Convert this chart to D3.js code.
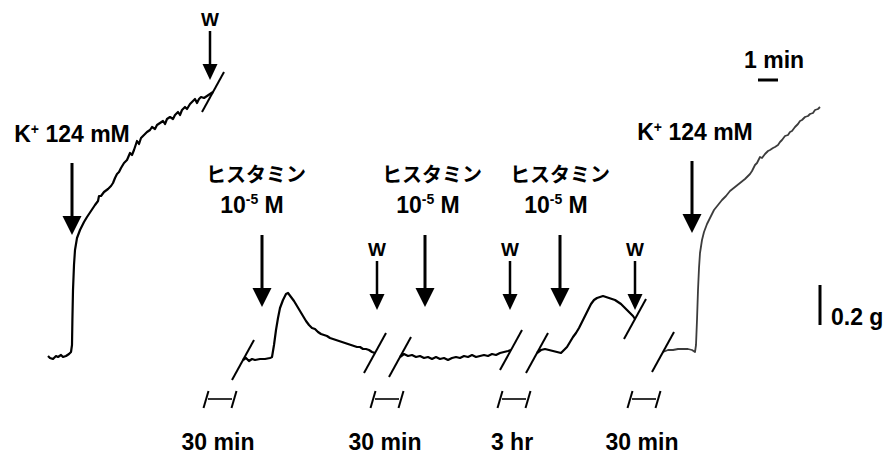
<!DOCTYPE html>
<html><head><meta charset="utf-8">
<script src="https://cdn.jsdelivr.net/npm/d3@7"></script>
<style>body{margin:0;background:#fff}svg{display:block}</style>
</head><body>
<svg id="chart" width="888" height="456"></svg>
<script>
// Isometric tension records. Each point: [time on the drawn record (min), tension (g)]
const kFirst = [[0,0.01],[0.1,0],[0.25,-0.005],[0.4,0.01],[0.5,0.005],[0.65,0.015],[0.75,0.005],[0.9,0.01],[1.05,0.02],[1.15,0.03],[1.2,0.065],[1.22,0.19],[1.25,0.34],[1.3,0.465],[1.35,0.54],[1.45,0.6],[1.6,0.64],[1.8,0.68],[1.95,0.705],[2.15,0.735],[2.35,0.765],[2.5,0.785],[2.55,0.81],[2.65,0.81],[2.8,0.83],[3.0,0.845],[3.15,0.86],[3.25,0.875],[3.35,0.9],[3.45,0.92],[3.55,0.93],[3.65,0.95],[3.8,0.975],[3.95,0.99],[4.1,1.025],[4.2,1.015],[4.3,1.04],[4.4,1.07],[4.45,1.085],[4.55,1.07],[4.65,1.1],[4.8,1.115],[4.95,1.13],[5.1,1.14],[5.2,1.155],[5.35,1.145],[5.45,1.165],[5.6,1.175],[5.75,1.185],[5.85,1.17],[5.95,1.195],[6.1,1.205],[6.25,1.195],[6.35,1.215],[6.5,1.23],[6.6,1.215],[6.7,1.24],[6.85,1.255],[6.95,1.245],[7.1,1.27],[7.25,1.285],[7.35,1.295],[7.45,1.275],[7.55,1.295],[7.65,1.305],[7.8,1.3],[7.95,1.31],[8.1,1.32],[8.25,1.33]];
const histamine1 = [[9.75,-0.01],[9.9,0],[10.05,-0.015],[10.2,-0.005],[10.35,-0.01],[10.6,-0.005],[10.85,-0.005],[11.1,0],[11.2,0.005],[11.3,0.065],[11.4,0.14],[11.5,0.2],[11.6,0.25],[11.75,0.29],[11.9,0.32],[12.0,0.325],[12.15,0.305],[12.3,0.285],[12.45,0.26],[12.6,0.235],[12.75,0.21],[12.9,0.185],[13.05,0.165],[13.2,0.15],[13.35,0.145],[13.5,0.13],[13.65,0.12],[13.8,0.115],[13.95,0.11],[14.1,0.1],[14.25,0.095],[14.4,0.09],[14.55,0.085],[14.7,0.08],[14.85,0.075],[15.0,0.07],[15.15,0.065],[15.3,0.06],[15.45,0.055],[15.6,0.055],[15.75,0.045],[15.9,0.045],[16.05,0.04],[16.2,0.03],[16.35,0.025]];
const histamine2 = [[17.6,0.005],[17.8,0.02],[18.0,0.01],[18.2,0.015],[18.4,0.005],[18.6,0.01],[18.8,0],[19.0,0.005],[19.2,-0.005],[19.4,0.005],[19.6,-0.005],[19.8,0],[20.0,-0.01],[20.2,0],[20.4,0.005],[20.6,0],[20.8,0.01],[21.0,0.005],[21.2,0.015],[21.4,0.005],[21.6,0.01],[21.8,0.015],[22.0,0.01],[22.2,0.02],[22.4,0.015],[22.6,0.025],[22.8,0.03],[23.0,0.035],[23.15,0.04]];
const histamine3 = [[24.45,0.025],[24.65,0.04],[24.85,0.045],[25.05,0.04],[25.25,0.035],[25.45,0.03],[25.65,0.025],[25.8,0.04],[25.95,0.055],[26.1,0.08],[26.25,0.105],[26.4,0.125],[26.55,0.15],[26.7,0.18],[26.85,0.21],[27.0,0.24],[27.15,0.27],[27.3,0.29],[27.45,0.3],[27.6,0.305],[27.75,0.31],[27.9,0.305],[28.05,0.3],[28.2,0.295],[28.35,0.29],[28.5,0.28],[28.65,0.27],[28.8,0.255],[28.95,0.24],[29.1,0.225],[29.25,0.21],[29.35,0.195]];
const kSecond = [[30.75,0.03],[31.0,0.04],[31.25,0.04],[31.5,0.045],[31.75,0.045],[32.0,0.045],[32.2,0.04],[32.35,0.03],[32.4,0.065],[32.45,0.19],[32.5,0.34],[32.55,0.45],[32.6,0.525],[32.7,0.59],[32.8,0.63],[32.95,0.67],[33.1,0.7],[33.3,0.74],[33.5,0.765],[33.7,0.79],[33.9,0.81],[34.1,0.835],[34.35,0.855],[34.6,0.875],[34.85,0.895],[35.1,0.92],[35.2,0.935],[35.35,0.965],[35.45,0.975],[35.6,1.005],[35.7,1.0],[35.85,1.02],[36.0,1.035],[36.1,1.04],[36.25,1.05],[36.35,1.055],[36.5,1.065],[36.6,1.08],[36.7,1.09],[36.85,1.11],[37.0,1.115],[37.1,1.13],[37.2,1.135],[37.35,1.155],[37.5,1.17],[37.6,1.185],[37.7,1.19],[37.85,1.205],[38.0,1.21],[38.1,1.22],[38.25,1.225],[38.35,1.24],[38.5,1.245],[38.6,1.255]];
const records = [kFirst, histamine1, histamine2, histamine3, kSecond];

// Drug additions: time, tension at arrow tip, kind, where the label is centred
const stimulusTimes = [1.2, 10.7, 18.85, 25.6, 32.2];
const stimulusTips = [0.615, 0.255, 0.255, 0.255, 0.625];
const stimulusKinds = ["K", "H", "H", "H", "K"];
const stimulusLabelTimes = [1.2, 10.2, 19.0, 25.4, 32.35];
// Washouts (W)
const washTimes = [8.1, 16.45, 23.1, 29.35];
const washTips = [1.39, 0.24, 0.24, 0.24];
// Omitted intervals between records
const gapTimes = [8.6, 16.95, 23.3, 29.8];
const gapLabels = ["30 min", "30 min", "3 hr", "30 min"];
// Calibration bars
const timeBar = 1;      // min
const tensionBar = 0.2; // g

const svg = d3.select("#chart");
const x = d3.scaleLinear().domain([0, 42]).range([48, 888]);
const y = d3.scaleLinear().domain([0, 1.5]).range([358, 58]);

const latin = "'Liberation Sans', Arial, sans-serif";
const cjk = "'Noto Sans CJK JP', sans-serif";
const fs = 23;

const line = d3.line().x(d => x(d[0])).y(d => y(d[1]));

// traces
svg.append("g").selectAll("path").data(records).join("path")
  .attr("d", line)
  .attr("fill", "none")
  .attr("stroke", (d, i) => i === 4 ? "#3c3c3c" : "#000")
  .attr("stroke-width", (d, i) => i === 4 ? 1.8 : 2.2)
  .attr("stroke-linejoin", "round");

// break marks at record ends
const breaks = [];
records.forEach((r, i) => {
  if (i > 0) breaks.push(r[0]);
  if (i < records.length - 1) breaks.push(r[r.length - 1]);
});
svg.append("g").selectAll("line").data(breaks).join("line")
  .attr("x1", d => x(d[0]) - 11).attr("y1", d => y(d[1]) + 20)
  .attr("x2", d => x(d[0]) + 11).attr("y2", d => y(d[1]) - 20)
  .attr("stroke", "#000").attr("stroke-width", 2);

function arrow(g, xt, yt, len, headW, headH, shaftW) {
  g.append("rect").attr("x", xt - shaftW / 2).attr("y", yt - len)
    .attr("width", shaftW).attr("height", len - headH + 1).attr("fill", "#000");
  g.append("path").attr("d", `M${xt - headW / 2},${yt - headH}L${xt + headW / 2},${yt - headH}L${xt},${yt}Z`)
    .attr("fill", "#000");
}

const ann = svg.append("g");
stimulusTimes.forEach((t, i) => {
  const xt = x(t), yt = y(stimulusTips[i]);
  const lx = x(stimulusLabelTimes[i]);
  const len = 72;
  arrow(ann, xt, yt, len, 19, 19, 3);
  const top = yt - len;
  if (stimulusKinds[i] === "K") {
    const tx = ann.append("text").attr("x", lx).attr("y", top - 21)
      .attr("text-anchor", "middle").attr("font-family", latin)
      .attr("font-weight", "bold").attr("font-size", fs);
    tx.append("tspan").text("K");
    tx.append("tspan").attr("font-size", 14).attr("dy", -8).text("+");
    tx.append("tspan").attr("dy", 8).text(" 124 mM");
  } else {
    ann.append("text").attr("x", lx + 4).attr("y", top - 53)
      .attr("text-anchor", "middle").attr("font-family", cjk)
      .attr("font-weight", "bold").attr("font-size", 20).text("ヒスタミン");
    const tx = ann.append("text").attr("x", lx).attr("y", top - 22)
      .attr("text-anchor", "middle").attr("font-family", latin)
      .attr("font-weight", "bold").attr("font-size", fs);
    tx.append("tspan").text("10");
    tx.append("tspan").attr("font-size", 14).attr("dy", -9).text("-5");
    tx.append("tspan").attr("dy", 9).text("  M");
  }
});

washTimes.forEach((t, i) => {
  const xt = x(t), yt = y(washTips[i]);
  const len = 49;
  arrow(ann, xt, yt, len, 15, 16, 2.5);
  ann.append("text").attr("x", xt).attr("y", yt - len - 5)
    .attr("text-anchor", "middle").attr("font-family", latin)
    .attr("font-weight", "bold").attr("font-size", 19).text("W");
});

// omitted-interval markers
const gapY = 399, half = 14;
const gaps = svg.append("g");
gapTimes.forEach((t, i) => {
  const cx = x(t);
  gaps.append("line").attr("x1", cx - half + 2).attr("x2", cx + half - 2)
    .attr("y1", gapY).attr("y2", gapY).attr("stroke", "#000").attr("stroke-width", 1.6);
  [cx - half, cx + half].forEach(sx => {
    gaps.append("line").attr("x1", sx - 2.5).attr("y1", gapY + 9)
      .attr("x2", sx + 2.5).attr("y2", gapY - 8)
      .attr("stroke", "#000").attr("stroke-width", 2);
  });
  gaps.append("text").attr("x", cx - 2).attr("y", 450)
    .attr("text-anchor", "middle").attr("font-family", latin)
    .attr("font-weight", "bold").attr("font-size", fs).text(gapLabels[i]);
});

// calibration: 1 min
const bx = 758, by = 80;
svg.append("line").attr("x1", bx).attr("x2", bx + (x(timeBar) - x(0)))
  .attr("y1", by).attr("y2", by).attr("stroke", "#000").attr("stroke-width", 3);
svg.append("text").attr("x", 744).attr("y", 68).attr("font-family", latin)
  .attr("font-weight", "bold").attr("font-size", fs).text("1 min");

// calibration: 0.2 g
const vx = 820, vy = 325;
svg.append("line").attr("x1", vx).attr("x2", vx)
  .attr("y1", vy).attr("y2", vy - (y(0) - y(tensionBar)))
  .attr("stroke", "#000").attr("stroke-width", 3);
svg.append("text").attr("x", 831).attr("y", 325).attr("font-family", latin)
  .attr("font-weight", "bold").attr("font-size", fs).text("0.2 g");
</script>
</body></html>
